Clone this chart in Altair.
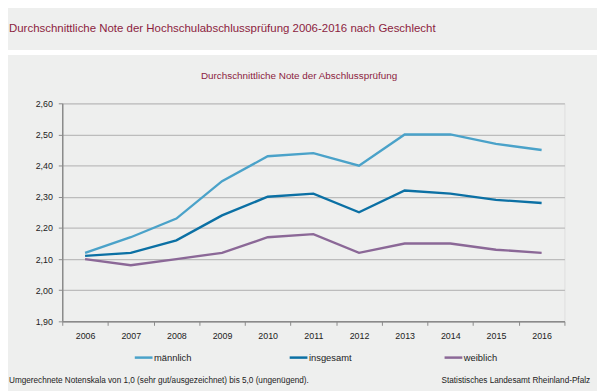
import altair as alt
import pandas as pd

years = [2006, 2007, 2008, 2009, 2010, 2011, 2012, 2013, 2014, 2015, 2016]
maennlich = [2.12, 2.17, 2.23, 2.35, 2.43, 2.44, 2.40, 2.50, 2.50, 2.47, 2.45]
insgesamt = [2.11, 2.12, 2.16, 2.24, 2.30, 2.31, 2.25, 2.32, 2.31, 2.29, 2.28]
weiblich = [2.10, 2.08, 2.10, 2.12, 2.17, 2.18, 2.12, 2.15, 2.15, 2.13, 2.12]
series = ["männlich", "insgesamt", "weiblich"]
colors = ["#4aa2c9", "#0b70a4", "#8b6897"]
y_ticks = [1.9, 2.0, 2.1, 2.2, 2.3, 2.4, 2.5, 2.6]

title_text = "Durchschnittliche Note der Hochschulabschlussprüfung 2006-2016 nach Geschlecht"
subtitle_text = "Durchschnittliche Note der Abschlussprüfung"
footer_left = "Umgerechnete Notenskala von 1,0 (sehr gut/ausgezeichnet) bis 5,0 (ungenügend)."
footer_right = "Statistisches Landesamt Rheinland-Pfalz"

rows = []
for name, vals in zip(series, [maennlich, insgesamt, weiblich]):
    for yr, v in zip(years, vals):
        rows.append({"Jahr": str(yr), "Serie": name, "Note": v})
df = pd.DataFrame(rows)

FONT = "Liberation Sans"
RED = "#8c1d40"

lines = alt.Chart(df).mark_line(interpolate="linear", strokeWidth=2.4).encode(
    x=alt.X("Jahr:O", bandPosition=0.5,
            scale=alt.Scale(type="band", paddingInner=0, paddingOuter=0),
            axis=alt.Axis(title=None, labelAngle=0, tickBand="extent", grid=False,
                          domainColor="#8a8a8a", domainWidth=1.5, tickColor="#8a8a8a",
                          tickSize=4, labelPadding=6, labelFontSize=9, labelColor="#222222",
                          labelFont=FONT)),
    y=alt.Y("Note:Q", scale=alt.Scale(domain=[1.9, 2.6], nice=False, zero=False),
            axis=alt.Axis(title=None, values=y_ticks, grid=True, gridColor="#bcbcbc",
                          gridWidth=1.3, domainColor="#8a8a8a", domainWidth=1.5,
                          tickColor="#8a8a8a", tickSize=4, labelPadding=6,
                          labelFontSize=9, labelColor="#222222", labelFont=FONT,
                          labelExpr="replace(format(datum.value, '.2f'), '.', ',')")),
    color=alt.Color("Serie:N", sort=series,
                    scale=alt.Scale(domain=series, range=colors),
                    legend=alt.Legend(title=None, orient="none", legendX=72, legendY=247,
                                      direction="horizontal", columns=3, gridAlign="all",
                                      columnPadding=88, symbolType="stroke",
                                      symbolSize=324, symbolStrokeWidth=2.5,
                                      labelFontSize=9.5, labelColor="#222222",
                                      labelFont=FONT, labelOffset=0, padding=0)),
)

band = alt.Chart(pd.DataFrame({"a": [1]})).mark_rect(color="white").encode(
    x=alt.value(-55), x2=alt.value(542), y=alt.value(-54), y2=alt.value(-49))

def label(txt, x, y, size, color, align="left"):
    return alt.Chart(pd.DataFrame({"t": [txt]})).mark_text(
        align=align, baseline="middle", fontSize=size, color=color, font=FONT
    ).encode(x=alt.value(x), y=alt.value(y), text="t:N")

chart = alt.layer(
    band,
    lines,
    label(title_text, -54, -75, 11.6, RED),
    label(subtitle_text, 240, -28, 10, RED, "center"),
    label(footer_left, -54, 281, 8.3, "#222222"),
    label(footer_right, 535, 281, 8.3, "#222222", "right"),
).properties(
    width=509, height=221,
    autosize=alt.AutoSizeParams(type="none"),
    padding={"left": 55, "top": 94, "right": 33, "bottom": 68},
    background="#eeefee",
).configure_view(stroke="#c0c0c0", strokeWidth=2).configure(font=FONT)

chart.save("out.html", embed_options={"renderer": "svg", "actions": False})
